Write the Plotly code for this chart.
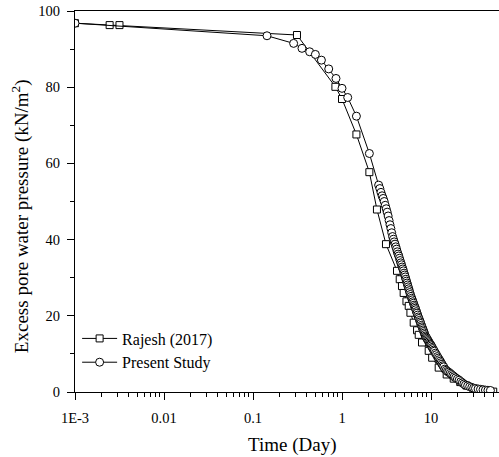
import plotly.graph_objects as go

# Rajesh (2017)
rajesh_t = [0.001, 0.00245, 0.00316, 0.312, 0.843, 1.0, 1.452, 2.03, 2.47, 3.12,
            4.15, 4.45, 4.72, 4.93, 5.3, 5.62, 5.87, 6.39, 6.97, 7.28, 7.92,
            9.42, 10.3, 12.2, 15.0, 18.0, 21.3, 25.0, 30.0, 36.0, 42.0, 50.0]
rajesh_u = [96.8, 96.3, 96.3, 93.7, 80.1, 76.9, 67.6, 57.7, 47.9, 38.8,
            31.8, 29.6, 27.8, 26.0, 23.8, 22.6, 20.8, 18.2, 16.2, 15.0, 13.0,
            10.8, 9.0, 6.4, 4.6, 3.5, 2.6, 1.7, 0.9, 0.4, 0.2, 0.1]

# Present Study
present_t = [0.001, 0.1436, 0.286, 0.355, 0.433, 0.502, 0.587, 0.709, 0.856, 1.0,
             1.159, 1.452, 2.03,
             2.58, 2.66, 2.74, 2.82, 2.90, 2.98, 3.06, 3.14, 3.22, 3.30,
             3.38, 3.46, 3.54, 3.62, 3.70, 3.78, 3.86, 3.94, 4.02, 4.10,
             4.18, 4.26, 4.34, 4.42, 4.50, 4.58, 4.66, 4.74, 4.82, 4.90,
             4.98, 5.06, 5.14, 5.22, 5.30, 5.38, 5.46, 5.54, 5.62, 5.70,
             5.78, 5.86, 5.96, 6.06, 6.16, 6.26, 6.36, 6.46, 6.56, 6.66,
             6.76, 6.86, 6.96, 7.08, 7.20, 7.32, 7.44, 7.56, 7.68, 7.80,
             7.92, 8.04, 8.16, 8.28, 8.40, 8.52, 8.64, 8.80, 8.96, 9.12,
             9.28, 9.44, 9.60, 9.76, 9.92, 10.1, 10.3, 10.5, 10.7, 10.9,
             11.2, 11.5, 11.8, 12.1, 12.4, 12.7, 13.0, 13.3, 13.6, 13.9,
             14.3, 14.8, 15.3, 15.8, 16.4, 17.0, 17.6, 18.2, 18.9, 19.8,
             20.7, 21.6, 22.5, 23.4, 24.4, 25.8, 27.2, 28.7, 30.1, 31.6,
             33.8, 36.0, 38.4, 40.9, 43.6, 46.5]
present_u = [96.8, 93.5, 91.5, 90.2, 89.3, 88.6, 87.1, 84.8, 82.3, 79.7,
             77.3, 72.4, 62.6,
             54.3, 53.4, 52.4, 51.5, 50.8, 50.0, 49.0, 48.1, 47.2, 46.2,
             45.0, 43.9, 42.9, 41.8, 40.8, 40.1, 39.4, 38.8, 38.1, 37.5,
             36.8, 36.2, 35.7, 35.1, 34.5, 33.9, 33.4, 32.8, 32.3, 31.8,
             31.2, 30.7, 30.2, 29.6, 29.1, 28.6, 28.1, 27.6, 27.1, 26.6,
             26.1, 25.6, 25.1, 24.6, 24.2, 23.7, 23.3, 22.8, 22.4, 22.0,
             21.6, 21.1, 20.7, 20.2, 19.7, 19.3, 18.8, 18.4, 18.0, 17.5,
             17.1, 16.7, 16.3, 15.9, 15.5, 15.1, 14.7, 14.4, 14.1, 13.8,
             13.5, 13.2, 12.9, 12.6, 12.4, 12.1, 11.7, 11.4, 11.0, 10.7,
             10.2, 9.8, 9.3, 8.9, 8.5, 8.1, 7.7, 7.3, 6.9, 6.6,
             6.0, 5.7, 5.4, 5.2, 4.9, 4.6, 4.3, 4.0, 3.7, 3.4,
             3.1, 2.7, 2.4, 2.1, 1.8, 1.6, 1.4, 1.2, 1.0, 0.9,
             0.8, 0.7, 0.6, 0.5, 0.45, 0.4]

x_tickvals = [0.001, 0.01, 0.1, 1, 10]
x_ticktext = ["1E-3", "0.01", "0.1", "1", "10"]
x_minor = [m * d for d in [0.001, 0.01, 0.1, 1, 10] for m in range(2, 10)]
y_tickvals = [0, 20, 40, 60, 80, 100]
y_minor = [10, 30, 50, 70, 90]

x_title = "Time (Day)"
y_title = "Excess pore water pressure (kN/m<sup>2</sup>)"

FONT = "Liberation Serif"

fig = go.Figure()
fig.add_trace(go.Scatter(
    x=rajesh_t, y=rajesh_u, mode="lines+markers", name="Rajesh (2017)",
    line=dict(color="black", width=1),
    marker=dict(symbol="square", size=7, color="white",
                line=dict(color="black", width=1)),
))
fig.add_trace(go.Scatter(
    x=present_t, y=present_u, mode="lines+markers", name="Present Study",
    line=dict(color="black", width=1),
    marker=dict(symbol="circle", size=8, color="white",
                line=dict(color="black", width=1)),
))

fig.add_annotation(xref="paper", yref="paper", x=0.512, y=-0.139,
                   xanchor="center", yanchor="middle", showarrow=False,
                   text=x_title, font=dict(family=FONT, size=19, color="black"))
fig.add_annotation(xref="paper", yref="paper", x=-0.127, y=0.462,
                   xanchor="center", yanchor="middle", showarrow=False,
                   textangle=-90,
                   text=y_title, font=dict(family=FONT, size=19, color="black"))

fig.update_layout(
    width=499, height=457,
    margin=dict(l=75, r=0, t=11, b=65),
    paper_bgcolor="white", plot_bgcolor="white",
    font=dict(family=FONT, size=14.5, color="black"),
    showlegend=True,
    legend=dict(x=0.005, y=0.185, xanchor="left", yanchor="top",
                bgcolor="rgba(0,0,0,0)", font=dict(family=FONT, size=16),
                itemwidth=35, tracegroupgap=0),
    xaxis=dict(
        type="log", range=[-3, 1.764],
        tickmode="array", tickvals=x_tickvals, ticktext=x_ticktext,
        ticks="outside", ticklen=7, tickwidth=1, tickcolor="black",
        ticklabelstandoff=6,
        minor=dict(tickmode="array", tickvals=x_minor, ticks="outside",
                   ticklen=4, tickwidth=1, tickcolor="black", showgrid=False),
        showline=True, linecolor="black", linewidth=1, mirror=True,
        showgrid=False, zeroline=False,
        tickfont=dict(family=FONT, size=14.5),
    ),
    yaxis=dict(
        range=[0, 100],
        tickmode="array", tickvals=y_tickvals,
        ticks="outside", ticklen=7, tickwidth=1, tickcolor="black",
        ticklabelstandoff=4,
        minor=dict(tickmode="array", tickvals=y_minor, ticks="outside",
                   ticklen=4, tickwidth=1, tickcolor="black", showgrid=False),
        showline=True, linecolor="black", linewidth=1,
        showgrid=False, zeroline=False,
        tickfont=dict(family=FONT, size=14.5),
    ),
)

fig.write_html("out.html")
